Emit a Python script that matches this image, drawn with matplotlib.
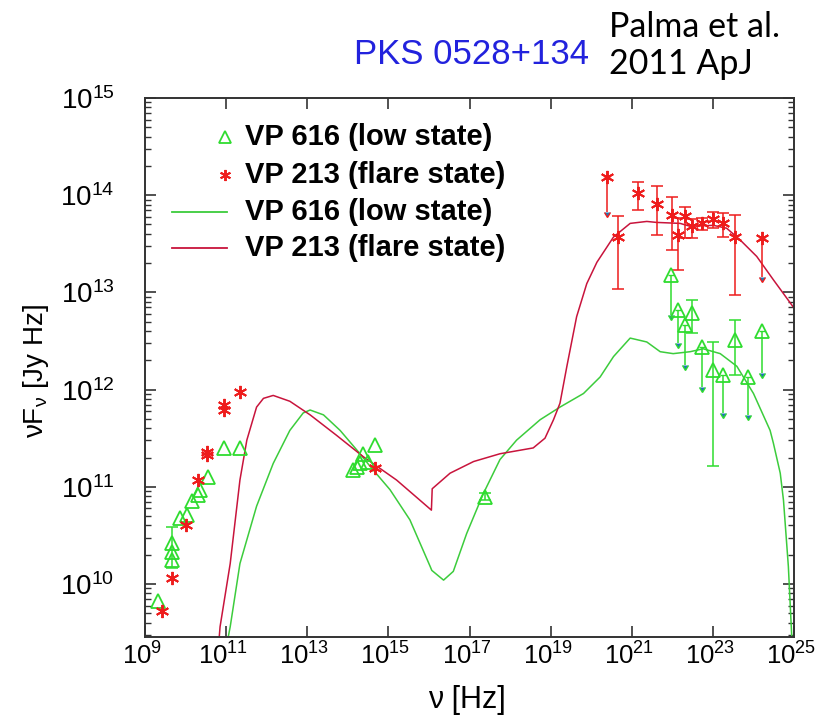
import numpy as np
import matplotlib
matplotlib.use("Agg")
import matplotlib.pyplot as plt
import matplotlib.transforms as mtransforms
from matplotlib.ticker import FixedLocator, FixedFormatter, LogLocator, NullLocator, NullFormatter

plt.rcParams['font.family'] = ['Liberation Sans', 'DejaVu Sans']
plt.rcParams['mathtext.default'] = 'regular'

# ---------------- data (log10 values) ----------------
# VP 616 (low state) observed points, no error bars
g_pts_lognu = [9.33, 9.66, 9.66, 9.86, 10.03, 10.15, 10.31, 10.36, 10.56, 10.95, 11.34,
               14.13, 14.22, 14.30, 14.38, 14.50, 14.67]
g_pts_logf = [9.83, 10.42, 10.25, 10.68, 10.71, 10.85, 10.92, 10.97, 11.10, 11.40, 11.40,
              11.17, 11.20, 11.24, 11.34, 11.26, 11.43]
# VP 616 points with error bars
g_err_lognu = [9.66, 17.38, 22.48, 22.99, 23.55]
g_err_logf = [10.33, 10.90, 12.79, 12.20, 12.51]
g_err_loghi = [10.59, 10.94, 12.92, 12.49, 12.72]
g_err_loglo = [10.16, 10.86, 12.58, 11.21, 12.15]
# VP 616 upper limits
g_ul_lognu = [21.96, 22.15, 22.31, 22.72, 23.26, 23.87, 24.22]
g_ul_logf = [13.18, 12.82, 12.66, 12.44, 12.15, 12.13, 12.60]
g_ul_logend = [12.77, 12.48, 12.25, 12.03, 11.76, 11.74, 12.17]

# VP 213 (flare state) observed points, no error bars
r_pts_lognu = [9.41, 9.66, 10.01, 10.31, 10.52, 10.52, 10.95, 10.95, 11.34, 14.67]
r_pts_logf = [9.72, 10.06, 10.61, 11.07, 11.36, 11.33, 11.84, 11.79, 11.98, 11.19]
# VP 213 points with error bars
r_err_lognu = [20.67, 21.16, 21.63, 21.98, 22.15, 22.31, 22.48, 22.72, 22.99, 23.26, 23.55]
r_err_logf = [13.57, 14.02, 13.91, 13.80, 13.59, 13.79, 13.68, 13.71, 13.76, 13.71, 13.57]
r_err_loghi = [13.79, 14.14, 14.09, 13.98, 13.77, 13.88, 13.76, 13.77, 13.83, 13.82, 13.80]
r_err_loglo = [13.04, 13.85, 13.59, 13.44, 13.23, 13.56, 13.56, 13.64, 13.66, 13.57, 12.97]
# VP 213 upper limits
r_ul_lognu = [20.38, 24.20]
r_ul_logf = [14.19, 13.56]
r_ul_logend = [13.83, 13.16]

# model curves
g_mod_lognu = [10.98, 11.10, 11.34, 11.75, 12.16, 12.57, 12.90, 13.07, 13.40, 13.81, 14.30,
               14.55, 15.04, 15.53, 16.03, 16.07, 16.36, 16.60, 16.93, 17.34, 17.75, 18.16,
               18.74, 19.23, 19.81, 20.22, 20.55, 20.96, 21.37, 21.70, 22.02, 22.44, 22.76,
               23.18, 23.59, 24.00, 24.41, 24.49, 24.66, 24.74, 24.86, 24.94, 24.98]
g_mod_logf = [9.30, 9.56, 10.21, 10.80, 11.24, 11.58, 11.76, 11.79, 11.74, 11.58, 11.34,
              11.21, 10.97, 10.66, 10.18, 10.14, 10.04, 10.13, 10.52, 10.93, 11.28, 11.48,
              11.69, 11.82, 11.96, 12.13, 12.34, 12.53, 12.49, 12.39, 12.37, 12.39, 12.42,
              12.37, 12.24, 11.96, 11.58, 11.45, 11.14, 10.86, 10.18, 9.49, 9.20]
r_mod_lognu = [10.80, 10.85, 11.10, 11.34, 11.51, 11.75, 11.92, 12.16, 12.57, 13.07, 13.72,
               14.38, 15.20, 15.70, 16.06, 16.08, 16.52, 17.10, 17.75, 18.57, 18.86, 19.07,
               19.23, 19.40, 19.64, 19.89, 20.14, 20.55, 20.96, 21.37, 21.61, 22.19, 22.44,
               23.01, 23.34, 23.67, 24.08, 24.49, 24.98]
r_mod_logf = [9.30, 9.56, 10.21, 11.07, 11.48, 11.82, 11.91, 11.94, 11.88, 11.74, 11.53,
              11.31, 11.07, 10.89, 10.76, 10.98, 11.14, 11.26, 11.34, 11.40, 11.50, 11.69,
              11.86, 12.24, 12.75, 13.09, 13.31, 13.57, 13.71, 13.73, 13.72, 13.71, 13.68,
              13.69, 13.66, 13.54, 13.37, 13.13, 12.85]

x_tick_exps = [9, 11, 13, 15, 17, 19, 21, 23, 25]
legend_labels = ['VP 616 (low state)', 'VP 213 (flare state)',
                 'VP 616 (low state)', 'VP 213 (flare state)']

# ---------------- styles ----------------
GREEN = '#2fdc2f'
GREEN_LINE = '#3ccc3c'
RED = '#ee1c1c'
RED_LINE = '#c8143c'
P = lambda a: 10.0 ** np.asarray(a)

fig = plt.figure(figsize=(8.17, 7.2), dpi=100)
ax = fig.add_axes([0.1775, 0.1153, 0.7944, 0.7486])
ax.set_xscale('log')
ax.set_yscale('log')

# models
ax.plot(P(g_mod_lognu), P(g_mod_logf), color=GREEN_LINE, lw=1.1, zorder=2)
ax.plot(P(r_mod_lognu), P(r_mod_logf), color=RED_LINE, lw=1.1, zorder=2)

tri = dict(marker='^', ms=9.5, mfc='none', mew=1.3, ls='none', zorder=4)
ast = dict(marker=(6, 2, 0), ms=9.5, mew=1.4, ls='none', zorder=4)

# green
ax.errorbar(P(g_err_lognu), P(g_err_logf),
            yerr=[P(g_err_logf) - P(g_err_loglo), P(g_err_loghi) - P(g_err_logf)],
            fmt='none', ecolor=GREEN, elinewidth=1.1, capsize=4, capthick=1.1, zorder=3)
ax.errorbar(P(g_ul_lognu), P(g_ul_logf), yerr=P(g_ul_logf) - P(g_ul_logend),
            uplims=True, fmt='none', ecolor=GREEN, elinewidth=1.1, capsize=2.2, zorder=3)
ax.plot(P(g_pts_lognu), P(g_pts_logf), color=GREEN, **tri)
ax.plot(P(g_err_lognu), P(g_err_logf), color=GREEN, **tri)
ax.plot(P(g_ul_lognu), P(g_ul_logf), color=GREEN, **tri)

# red
ax.errorbar(P(r_err_lognu), P(r_err_logf),
            yerr=[P(r_err_logf) - P(r_err_loglo), P(r_err_loghi) - P(r_err_logf)],
            fmt='none', ecolor=RED, elinewidth=1.1, capsize=4, capthick=1.1, zorder=3)
ax.errorbar(P(r_ul_lognu), P(r_ul_logf), yerr=P(r_ul_logf) - P(r_ul_logend),
            uplims=True, fmt='none', ecolor=RED, elinewidth=1.1, capsize=2.2, zorder=3)
ax.plot(P(r_pts_lognu), P(r_pts_logf), color=RED, **ast)
ax.plot(P(r_err_lognu), P(r_err_logf), color=RED, **ast)
ax.plot(P(r_ul_lognu), P(r_ul_logf), color=RED, **ast)

# axes
ax.set_xlim(1e9, 1e25)
ax.set_ylim(10 ** 9.455, 1e15)
ax.xaxis.set_major_locator(FixedLocator([10.0 ** e for e in x_tick_exps]))
ax.xaxis.set_major_formatter(FixedFormatter(['$10^{%d}$' % e for e in x_tick_exps]))
ax.xaxis.set_minor_locator(NullLocator())
ax.yaxis.set_major_locator(LogLocator(base=10, numticks=20))
ax.yaxis.set_minor_locator(LogLocator(base=10, subs=np.arange(2, 10), numticks=20))
ax.yaxis.set_minor_formatter(NullFormatter())
ax.tick_params(which='both', direction='in', top=True, right=True, color='#333333')
ax.tick_params(which='major', length=8, width=1.2)
ax.tick_params(which='minor', length=4.5, width=1.0)
ax.tick_params(axis='y', which='major', pad=22, labelsize=20)
ax.tick_params(axis='x', which='major', pad=4, labelsize=18.5)
shift = mtransforms.ScaledTranslation(-3 / 100, 0, fig.dpi_scale_trans)
for lab in ax.get_xticklabels():
    lab.set_transform(lab.get_transform() + shift)
for s in ax.spines.values():
    s.set_color('#333333')
    s.set_linewidth(1.4)

# legend (drawn manually to match the layout)
rows_y = [0.9276, 0.857, 0.7885, 0.7217]
ax.plot([0.1233], [rows_y[0]], transform=ax.transAxes, color=GREEN, clip_on=False,
        **dict(tri, ms=8))
ax.plot([0.1233], [rows_y[1]], transform=ax.transAxes, color=RED, clip_on=False,
        **dict(ast, ms=8))
ax.plot([0.0416, 0.1263], [rows_y[2]] * 2, transform=ax.transAxes, color=GREEN_LINE, lw=1.3)
ax.plot([0.0416, 0.1263], [rows_y[3]] * 2, transform=ax.transAxes, color=RED_LINE, lw=1.3)
for yy, lab in zip(rows_y, legend_labels):
    ax.text(0.154, yy, lab, transform=ax.transAxes, ha='left', va='center',
            fontsize=21, fontweight='bold', color='black')

# labels and titles
fig.text(36 / 817, 1 - 371 / 720, 'νF$_{ν}$ [Jy Hz]', rotation=90, ha='center', va='center',
         fontsize=20)
fig.text(467 / 817, 1 - 700 / 720, 'ν [Hz]', ha='center', va='center', fontsize=22)
fig.text(471 / 817, 1 - 55 / 720, 'PKS 0528+134', ha='center', va='center',
         fontsize=25, color='#2222dd')
fig.text(609 / 817, 1 - 27 / 720, 'Palma et al.', ha='left', va='center',
         fontsize=24.5, family=['Lato', 'DejaVu Sans'])
fig.text(609 / 817, 1 - 64 / 720, '2011 ApJ', ha='left', va='center',
         fontsize=24.5, family=['Lato', 'DejaVu Sans'])

fig.savefig('out.png', dpi=100)
